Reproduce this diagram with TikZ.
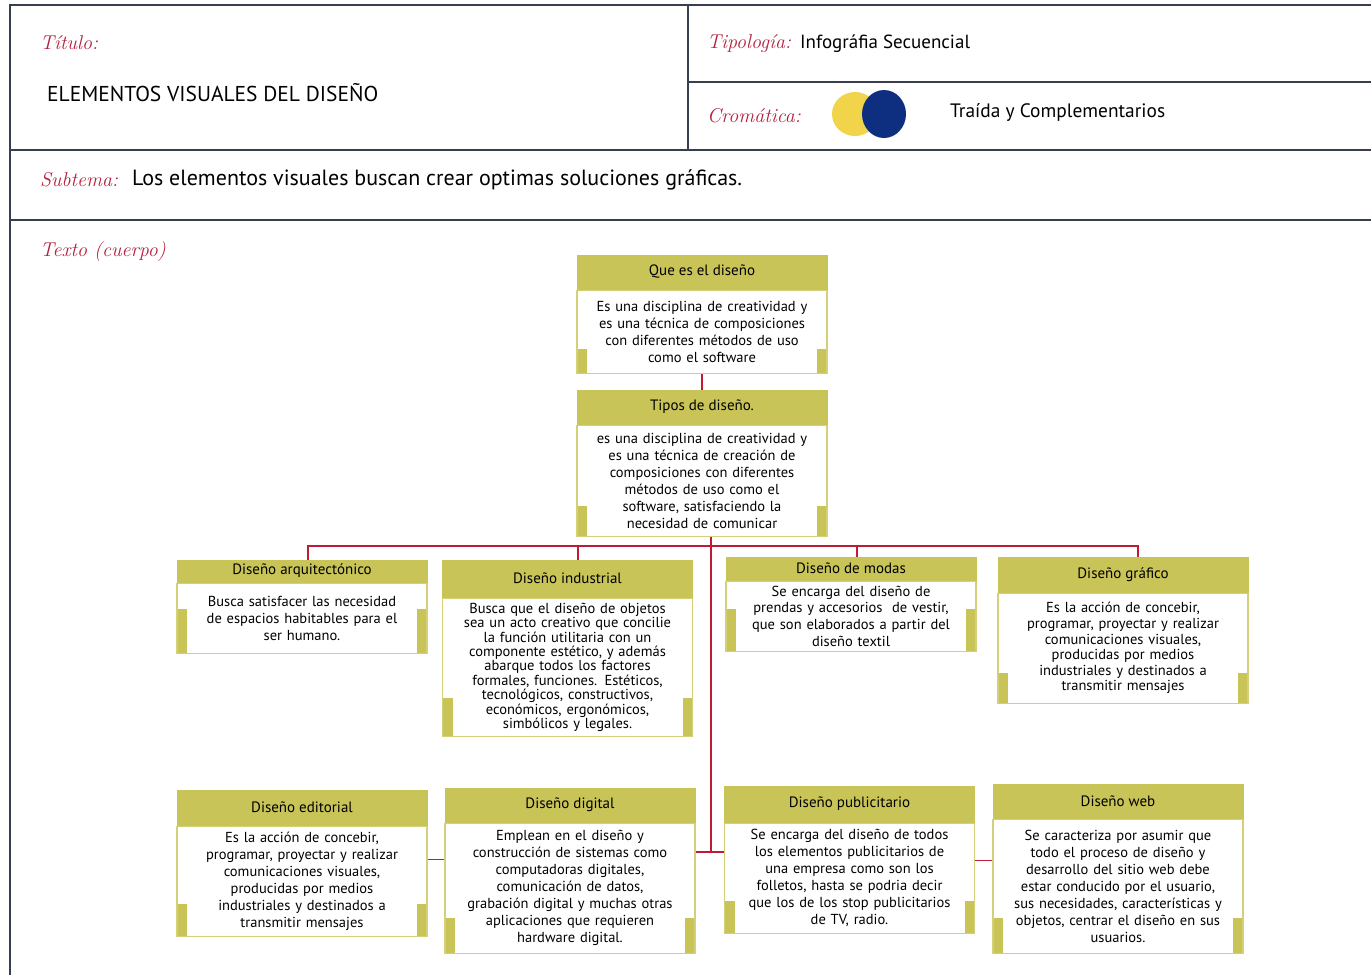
\documentclass[tikz,border=0pt]{standalone}
\usepackage{fontspec}
\setsansfont{PT Sans}
\usetikzlibrary{positioning}
\definecolor{olivebar}{RGB}{201,196,88}
\definecolor{linkred}{RGB}{190,28,52}
\definecolor{labelred}{RGB}{178,32,60}
\definecolor{framegray}{RGB}{55,62,80}
\definecolor{dotyellow}{RGB}{242,212,74}
\definecolor{dotblue}{RGB}{14,47,127}

\begin{document}
\begin{tikzpicture}[x=1pt,y=-1pt,
  frame/.style={draw=framegray,line width=1.8pt},
  tag/.style={anchor=west,inner sep=0pt,text=labelred,font=\fontsize{20}{24}\selectfont\itshape},
  info/.style={anchor=west,inner sep=0pt,font=\sffamily\fontsize{19}{22}\selectfont},
  head/.style={fill=olivebar,draw=olivebar,line width=1pt,minimum width=250,inner sep=0pt,font=\sffamily\fontsize{15}{17}\selectfont},
  sidebars/.style={path picture={
    \fill[olivebar] (path picture bounding box.south west) rectangle ++(10pt,#1pt);
    \fill[olivebar] (path picture bounding box.south east) rectangle ++(-10pt,#1pt);}},
  sidebars/.default=30,
  body/.style={fill=white,draw=olivebar!80,line width=1.5pt,minimum width=250,text width=244,align=center,inner sep=0pt,font=\sffamily\fontsize{14.5}{17}\selectfont,sidebars},
  link/.style={draw=linkred,line width=1.4pt}]
\useasboundingbox (0,0) rectangle (1371,975);
\fill[white] (0,0) rectangle (1371,975);

\draw[frame] (1371,5) -- (10,5) -- (10,975);
\draw[frame] (688,5) -- (688,150);
\draw[frame] (688,82) -- (1371,82);
\draw[frame] (10,150) -- (1371,150);
\draw[frame] (10,220) -- (1371,220);

\node[tag] (titulo) at (40,43) {Título:};
\node[info,font=\sffamily\fontsize{21.5}{24}\selectfont] (titulotext) at (47,93) {ELEMENTOS VISUALES DEL DISEÑO};
\node[tag] (tipologia) at (707,44) {Tipología:};
\node[info] (tipotext) at (800,44) {Infográfia Secuencial};
\node[tag] (cromatica) at (707,116) {Cromática:};
\fill[dotyellow] (855,114) ellipse [x radius=23,y radius=22];
\fill[dotblue] (884,114) ellipse [x radius=22,y radius=24];
\node[info,font=\sffamily\fontsize{19.4}{22}\selectfont] (cromatext) at (950,113) {Traída y Complementarios};
\node[tag] (subtema) at (40,180) {Subtema:};
\node[info,font=\sffamily\fontsize{22}{24}\selectfont] (subtext) at (132,180) {Los elementos visuales buscan crear optimas soluciones gráficas.};
\node[tag] (texto) at (40,252) {Texto (cuerpo)};

\node[head,minimum height=34] (queh) at (702,272) {Que es el diseño};
\node[body,minimum height=83,sidebars=24,below=0pt of queh] (queb) {Es una disciplina de creatividad y\\es una técnica de composiciones\\con diferentes métodos de uso\\como el software};

\node[head,minimum height=34] (tiposh) at (702,407) {Tipos de diseño.};
\node[body,minimum height=111,below=0pt of tiposh] (tiposb) {es una disciplina de creatividad y\\es una técnica de creación de\\composiciones con diferentes\\métodos de uso como el\\software, satisfaciendo la\\necesidad de comunicar};

\node[head,minimum height=22] (arqh) at (302,571) {Diseño arquitectónico};
\node[body,minimum height=70,sidebars=44,below=0pt of arqh] (arqb) {Busca satisfacer las necesidad\\de espacios habitables para el\\ser humano.};

\node[head,minimum height=37] (indh) at (567.5,578.5) {Diseño industrial};
\node[body,minimum height=138,sidebars=38,font=\sffamily\fontsize{14.5}{14.4}\selectfont,below=0pt of indh] (indb) {Busca que el diseño de objetos\\sea un acto creativo que concilie\\la función utilitaria con un\\componente estético, y además\\abarque todos los factores\\formales, funciones. Estéticos,\\tecnológicos, constructivos,\\económicos, ergonómicos,\\simbólicos y legales.};

\node[head,minimum height=23] (modash) at (851,568.5) {Diseño de modas};
\node[body,minimum height=70,sidebars=42,font=\sffamily\fontsize{14.5}{16.7}\selectfont,below=0pt of modash] (modasb) {Se encarga del diseño de\\prendas y accesorios\ \ de vestir,\\que son elaborados a partir del\\diseño textil};

\node[head,minimum height=35] (grafh) at (1123,574.5) {Diseño gráfico};
\node[body,minimum height=110,font=\sffamily\fontsize{14.5}{15.6}\selectfont,below=0pt of grafh] (grafb) {Es la acción de concebir,\\programar, proyectar y realizar\\comunicaciones visuales,\\producidas por medios\\industriales y destinados a\\transmitir mensajes};

\node[head,minimum height=35] (edith) at (302,807.5) {Diseño editorial};
\node[body,minimum height=110,sidebars=32,below=0pt of edith] (editb) {Es la acción de concebir,\\programar, proyectar y realizar\\comunicaciones visuales,\\producidas por medios\\industriales y destinados a\\transmitir mensajes};

\node[head,minimum height=34] (digih) at (570,805) {Diseño digital};
\node[body,minimum height=130,sidebars=35,below=0pt of digih] (digib) {Emplean en el diseño y\\construcción de sistemas como\\computadoras digitales,\\comunicación de datos,\\grabación digital y muchas otras\\aplicaciones que requieren\\hardware digital.};

\node[head,minimum height=36] (publh) at (849.5,804) {Diseño publicitario};
\node[body,minimum height=110,sidebars=32,below=0pt of publh] (publb) {Se encarga del diseño de todos\\los elementos publicitarios de\\una empresa como son los\\folletos, hasta se podria decir\\que los de los stop publicitarios\\de TV, radio.};

\node[head,minimum height=34] (webh) at (1118,801) {Diseño web};
\node[body,minimum height=134,sidebars=35,below=0pt of webh] (webb) {Se caracteriza por asumir que\\todo el proceso de diseño y\\desarrollo del sitio web debe\\estar conducido por el usuario,\\sus necesidades, características y\\objetos, centrar el diseño en sus\\usuarios.};

\coordinate (bus) at (711,546);
\coordinate (joint) at (711,852);
\draw[link] (queb) -- (tiposh);
\draw[link] (tiposb.south -| bus) -- (joint);
\draw[link] ([xshift=6pt]arqh.north) |- (bus) -| ([xshift=15pt]grafh.north);
\draw[link] ([xshift=10.5pt]indh.north) -- ([xshift=10.5pt]indh.north |- bus);
\draw[link] ([xshift=6pt]modash.north) -- ([xshift=6pt]modash.north |- bus);
\draw[link] (digib.east |- joint) -- (publb.west |- joint);
\draw[link] ([yshift=22pt]editb.east) -- ([yshift=22pt]editb.east -| digib.west);
\draw[link] ([yshift=18pt]publb.east) -- ([yshift=18pt]publb.east -| webb.west);
\end{tikzpicture}
\end{document}
